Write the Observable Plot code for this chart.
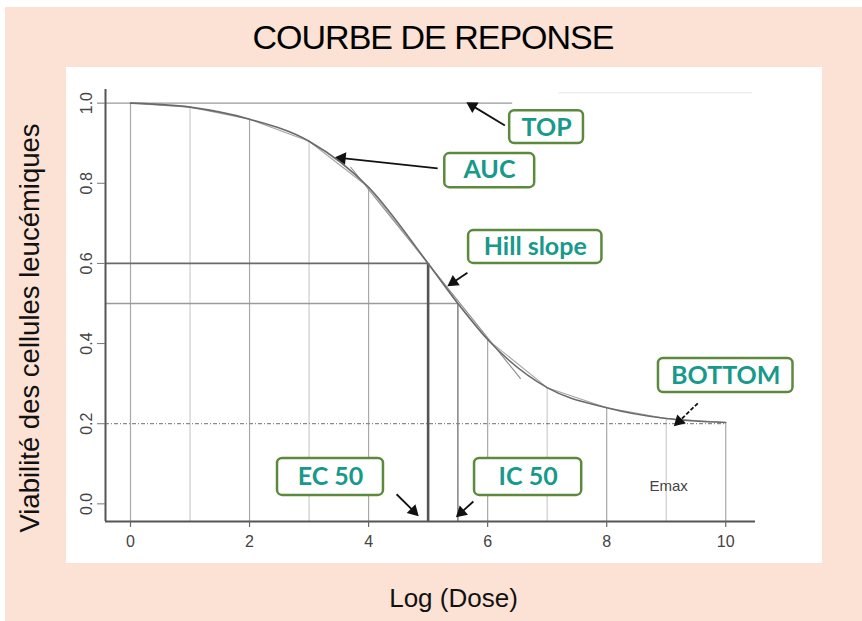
<!DOCTYPE html>
<html>
<head>
<meta charset="utf-8">
<script src="https://cdn.jsdelivr.net/npm/d3@7"></script>
<script src="https://cdn.jsdelivr.net/npm/@observablehq/plot@0.6"></script>
<style>
  html, body { margin: 0; padding: 0; background: #fff; }
  #wrap { position: relative; width: 862px; height: 621px; overflow: hidden; background: #fff; font-family: "Liberation Sans", Arial, sans-serif; }
  #peach { position: absolute; left: 5px; top: 7px; right: 0; bottom: 0; background: #fbe2d5; }
  #panel { position: absolute; left: 66px; top: 67px; width: 756px; height: 496px; background: #fff; }
  #title { position: absolute; left: 2px; width: 862px; top: 16px; line-height: 42px; text-align: center; font-size: 34px; letter-spacing: -1px; color: #000; }
  #ytitle { position: absolute; left: 30px; top: 328px; width: 600px; margin-left: -300px; line-height: 32px; margin-top: -16px; text-align: center; font-size: 27.5px; color: #111; transform: rotate(-90deg); }
  #xtitle { position: absolute; left: 0; width: 907px; top: 582px; line-height: 32px; text-align: center; font-size: 26px; color: #111; }
  #chart { position: absolute; left: 0; top: 0; }
</style>
</head>
<body>
<div id="wrap">
  <div id="peach"></div>
  <div id="panel"></div>
  <div id="title">COURBE DE REPONSE</div>
  <div id="ytitle">Viabilité des cellules leucémiques</div>
  <div id="xtitle">Log (Dose)</div>
  <div id="chart"></div>
</div>
<script>
// ---- data ----
const curveX = [0, 1, 2, 3, 4, 5, 5.5, 6, 7, 8, 9, 10];
const curveY = [1.0, 0.99, 0.96, 0.905, 0.79, 0.60, 0.50, 0.41, 0.29, 0.24, 0.213, 0.203];

const tangentX = [3.7, 6.55];
const tangentY = [0.84, 0.313];

const xTicks = [0, 2, 4, 6, 8, 10];
const yTicks = [0, 0.2, 0.4, 0.6, 0.8, 1.0];

const topLevel = 1.0, topEnd = 6.42;
const ec50 = 5, ec50Level = 0.6;
const ic50 = 5.5, ic50Level = 0.5;
const bottomLevel = 0.2, bottomEnd = 10;

const labelText = ["TOP", "AUC", "Hill slope", "BOTTOM", "EC 50", "IC 50"];
const labelX = [6.99, 6.03, 6.80, 10.0, 3.36, 6.68];
const labelY = [0.939, 0.832, 0.640, 0.318, 0.066, 0.066];
const boxX1 = [6.37, 5.28, 5.68, 8.87, 2.47, 5.78];
const boxX2 = [7.61, 6.79, 7.92, 11.13, 4.25, 7.58];
const boxY1 = [0.899, 0.789, 0.600, 0.278, 0.021, 0.021];
const boxY2 = [0.981, 0.874, 0.682, 0.363, 0.1135, 0.1135];

const arrowX1 = [6.29, 5.16, 5.66, 9.53, 4.47, 5.76];
const arrowY1 = [0.944, 0.837, 0.577, 0.251, 0.024, 0.006];
const arrowX2 = [5.68, 3.48, 5.36, 9.16, 4.81, 5.50];
const arrowY2 = [0.999, 0.864, 0.547, 0.198, -0.026, -0.029];

const emaxText = "Emax", emaxX = 9.04, emaxY = 0.044;

// ---- layout / derived tables ----
const W = 862, H = 621, mL = 105, mR = 107, mT = 89, mB = 100;
const xDomain = [-0.42, 10.5];
const yDomain = [-0.044, 1.034];
const xs = Plot.scale({x: {domain: xDomain, range: [mL, W - mR]}});
const ys = Plot.scale({y: {domain: yDomain, range: [H - mB, mT]}});

const curve = curveX.map((x, i) => ({x, y: curveY[i]}));
const drops = curve.filter(d => Number.isInteger(d.x));
const dropsEven = drops.filter(d => d.x % 2 === 0);
const dropsOdd = drops.filter(d => d.x % 2 !== 0);
const tangent = tangentX.map((x, i) => ({x, y: tangentY[i]}));
const labels = labelText.map((t, i) => ({t, x: labelX[i], y: labelY[i], x1: boxX1[i], x2: boxX2[i], y1: boxY1[i], y2: boxY2[i]}));
const arrows = arrowX1.map((x1, i) => {
  const px1 = xs.apply(x1), py1 = ys.apply(arrowY1[i]);
  const px2 = xs.apply(arrowX2[i]), py2 = ys.apply(arrowY2[i]);
  const a = Math.atan2(py2 - py1, px2 - px1);
  const back = 4.5;
  return {
    x1, y1: arrowY1[i],
    hx: xs.invert(px2 - back * Math.cos(a)), hy: ys.invert(py2 - back * Math.sin(a)),
    rotate: a * 180 / Math.PI + 90,
    dashed: i === 3
  };
});

const teal = "#17998b", green = "#5b8a3c";

const chart = Plot.plot({
  width: W, height: H,
  marginLeft: mL, marginRight: mR, marginTop: mT, marginBottom: mB,
  x: {domain: xDomain},
  y: {domain: yDomain},
  style: {background: "transparent", overflow: "visible", fontFamily: "'Liberation Sans', Arial, sans-serif"},
  marks: [
    // faint line above top
    Plot.ruleY([1.026], {x1: 7.2, x2: 10.45, stroke: "#eeeeee", strokeWidth: 1.5}),
    // drop lines at integer doses
    Plot.ruleX(dropsOdd, {x: "x", y1: yDomain[0], y2: "y", stroke: "#cdcdcd", strokeWidth: 1.2}),
    Plot.ruleX(dropsEven, {x: "x", y1: yDomain[0], y2: "y", stroke: "#a9a9a9", strokeWidth: 1.2}),
    // reference lines
    Plot.ruleY([topLevel], {x1: xDomain[0], x2: topEnd, stroke: "#9a9a9a", strokeWidth: 1.4}),
    Plot.ruleY([bottomLevel], {x1: xDomain[0], x2: bottomEnd, stroke: "#8a8a8a", strokeWidth: 1.2, strokeDasharray: "4,2,1,2"}),
    Plot.ruleY([ic50Level], {x1: xDomain[0], x2: ic50, stroke: "#9a9a9a", strokeWidth: 1.3}),
    Plot.ruleX([ic50], {y1: yDomain[0], y2: ic50Level, stroke: "#8a8a8a", strokeWidth: 1.6}),
    Plot.ruleY([ec50Level], {x1: xDomain[0], x2: ec50, stroke: "#6a6a6a", strokeWidth: 1.6}),
    Plot.ruleX([ec50], {y1: yDomain[0], y2: ec50Level, stroke: "#555", strokeWidth: 2.6}),
    // Hill slope tangent
    Plot.line(tangent, {x: "x", y: "y", stroke: "#8c8c8c", strokeWidth: 1.1}),
    // response curves
    Plot.line(curve, {x: "x", y: "y", curve: "linear", stroke: "#a5a5a5", strokeWidth: 1.1}),
    Plot.line(curve, {x: "x", y: "y", curve: "monotone-x", stroke: "#6a6a6a", strokeWidth: 1.6}),
    // axis lines
    Plot.ruleX([xDomain[0]], {y1: yDomain[0], y2: yDomain[1], stroke: "#555", strokeWidth: 2}),
    Plot.ruleY([yDomain[0]], {x1: xDomain[0], x2: xDomain[1], stroke: "#555", strokeWidth: 2}),
    Plot.axisX(xTicks, {tickSize: 6, tickPadding: 8, fontSize: 16, fill: "#444", stroke: "#666", strokeWidth: 1.2}),
    Plot.axisY(yTicks, {tickSize: 8, tickFormat: () => "", stroke: "#777", strokeWidth: 1}),
    Plot.text(yTicks, {x: xDomain[0], y: d => d, text: d => d.toFixed(1), rotate: -90, dx: -19, fontSize: 16, fill: "#444"}),
    Plot.text([emaxText], {x: emaxX, y: emaxY, text: d => d, fontSize: 15, fill: "#444"}),
    // arrows: shafts + filled heads
    Plot.link(arrows.filter(d => !d.dashed), {x1: "x1", y1: "y1", x2: "hx", y2: "hy", stroke: "#111", strokeWidth: 1.8}),
    Plot.link(arrows.filter(d => d.dashed), {x1: "x1", y1: "y1", x2: "hx", y2: "hy", stroke: "#111", strokeWidth: 1.8, strokeDasharray: "4,2"}),
    Plot.dot(arrows, {x: "hx", y: "hy", rotate: "rotate", symbol: "triangle", r: 4.6, fill: "#111", stroke: "none"}),
    // annotation boxes
    Plot.rect(labels, {x1: "x1", x2: "x2", y1: "y1", y2: "y2", fill: "white", stroke: green, strokeWidth: 2.5, rx: 5}),
    Plot.text(labels, {x: "x", y: "y", text: "t", fill: teal, fontSize: 25, fontWeight: "bold", fontFamily: "Lato, 'Open Sans', sans-serif"})
  ]
});
document.getElementById("chart").appendChild(chart);
</script>
</body>
</html>
